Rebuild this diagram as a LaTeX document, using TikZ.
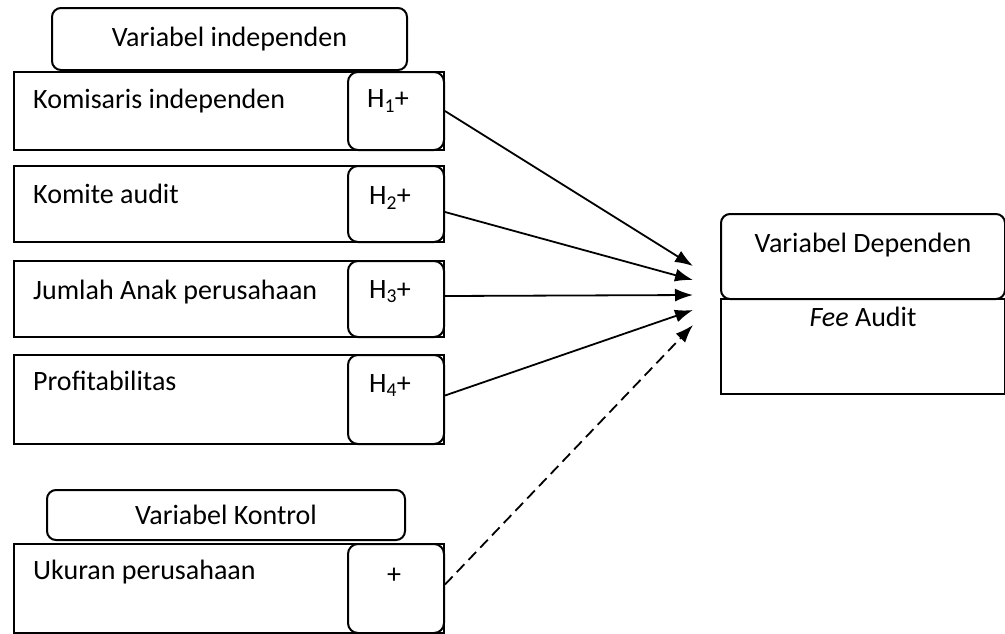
\documentclass[tikz,border=0pt]{standalone}
\usepackage{fontspec}
\setmainfont{Carlito}
\usetikzlibrary{positioning,arrows.meta}

\begin{document}
\begin{tikzpicture}[x=1pt,y=-1pt]

    \tikzset{head/.style={rectangle, rounded corners=9pt, draw, line width=2pt, fill=white, font=\fontsize{28}{32}\selectfont}}
    \tikzset{var/.style={rectangle, draw, line width=2pt, minimum width=430pt, anchor=north west}}
    \tikzset{hyp/.style={rectangle, rounded corners=10pt, draw, line width=2pt, minimum width=96pt, anchor=north east}}
    \tikzset{lbl/.style={inner sep=0pt, font=\fontsize{28}{32}\selectfont}}
    \tikzset{link/.style={line width=1.8pt, -{Latex[length=18pt,width=13pt]}}}

    \useasboundingbox (0,0) rectangle (1005,633);

    % INDEPENDENT VARIABLES
    \node(indep) at (229.5,39) [head, minimum width=355pt, minimum height=62pt] {Variabel independen};

    \node(v1) at (13,71) [var, minimum height=78pt] {};
    \node(h1) at (v1.north east) [hyp, minimum height=78pt] {};
    \node(t1) [lbl, anchor=west] at ([xshift=20pt,yshift=-30pt]v1.north west) {Komisaris independen};
    \node(p1) [lbl, below=30pt of h1.north, xshift=-8pt, anchor=center] {H\textsubscript{1}+};

    \node(v2) at (13,165) [var, minimum height=76pt] {};
    \node(h2) at (v2.north east) [hyp, minimum height=76pt] {};
    \node(t2) [lbl, anchor=west] at ([xshift=20pt,yshift=-29pt]v2.north west) {Komite audit};
    \node(p2) [lbl, below=33pt of h2.north, xshift=-6pt, anchor=center] {H\textsubscript{2}+};

    \node(v3) at (13,260) [var, minimum height=76pt] {};
    \node(h3) at (v3.north east) [hyp, minimum height=76pt] {};
    \node(t3) [lbl, anchor=west] at ([xshift=20pt,yshift=-32pt]v3.north west) {Jumlah Anak perusahaan};
    \node(p3) [lbl, below=32pt of h3.north, xshift=-6pt, anchor=center] {H\textsubscript{3}+};

    \node(v4) at (13,354) [var, minimum height=89pt] {};
    \node(h4) at (v4.north east) [hyp, minimum height=89pt] {};
    \node(t4) [lbl, anchor=west] at ([xshift=20pt,yshift=-27pt]v4.north west) {Profitabilitas};
    \node(p4) [lbl, below=32pt of h4.north, xshift=-6pt, anchor=center] {H\textsubscript{4}+};

    % CONTROL VARIABLE
    \node(ctrl) at (226,515) [head, minimum width=358pt, minimum height=50pt] {Variabel Kontrol};

    \node(v5) at (13,543) [var, minimum height=89pt] {};
    \node(h5) at (v5.north east) [hyp, minimum height=89pt] {};
    \node(t5) [lbl, anchor=west] at ([xshift=20pt,yshift=-29pt]v5.north west) {Ukuran perusahaan};
    \node(p5) [lbl, below=33pt of h5.north, xshift=-2pt, anchor=center] {+};

    % DEPENDENT VARIABLE
    \node(dep) at (720,298) [var, minimum width=284pt, minimum height=95pt] {};
    \node(dephead) at (720,213) [head, anchor=north west, minimum width=284pt, minimum height=85pt] {};
    \node(deptxt) [lbl, below=32pt of dephead.north, anchor=center] {Variabel Dependen};
    \node(fee) [lbl, below=19pt of dep.north, anchor=center] {\textit{Fee} Audit};

    % ARROW TIPS
    \coordinate (in1) at (693,266);
    \coordinate (in2) at (693,280);
    \coordinate (in3) at (693,295);
    \coordinate (in4) at (693,310);
    \coordinate (in5) at (693,325);

    % CONNEXIONS
    \draw[link] (h1.east) -- (in1);
    \draw[link] ([yshift=-8pt]h2.east) -- (in2);
    \draw[link] ([yshift=3pt]h3.east) -- (in3);
    \draw[link] ([yshift=4pt]h4.east) -- (in4);
    \draw[link, dash pattern=on 11pt off 6pt] ([yshift=4pt]h5.east) -- (in5);

\end{tikzpicture}
\end{document}
